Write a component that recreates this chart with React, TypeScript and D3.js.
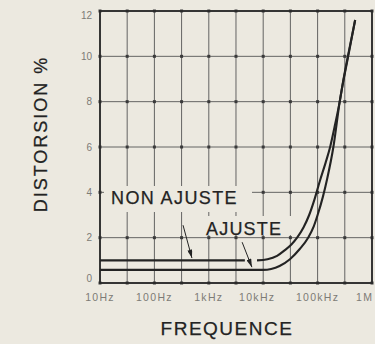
import { scaleLog, scaleLinear, line, curveMonotoneX } from 'd3';

// distortion (%) vs frequency (Hz)
const yTicks = [0, 2, 4, 6, 8, 10, 12];
const xDecades = [10, 100, 1e3, 1e4, 1e5, 1e6];
const xTickLabels = ['10Hz', '100Hz', '1kHz', '10kHz', '100kHz', '1M'];
const gridFreqs = [10, 31.6, 100, 316, 1e3, 3160, 1e4, 31600, 1e5, 316000, 1e6];

const nonAjusteFlat: [number, number][] = [
  [10, 1.0],
  [4600, 1.0],
];
const nonAjusteRise: [number, number][] = [
  [7700, 1.0],
  [12000, 1.05],
  [18000, 1.2],
  [25000, 1.45],
  [33000, 1.7],
  [42000, 2.0],
  [55000, 2.45],
  [70000, 3.0],
  [88000, 3.7],
  [110000, 4.5],
  [140000, 5.3],
  [170000, 6.0],
  [210000, 7.0],
  [255000, 8.0],
  [300000, 9.0],
  [360000, 10.0],
  [490000, 11.6],
];
const ajuste: [number, number][] = [
  [10, 0.58],
  [10000, 0.58],
  [14000, 0.62],
  [20000, 0.75],
  [31000, 1.05],
  [47000, 1.5],
  [67000, 2.0],
  [85000, 2.5],
  [100000, 3.0],
  [125000, 3.8],
  [150000, 4.6],
  [195000, 6.0],
  [255000, 8.0],
  [365000, 10.0],
  [490000, 11.6],
];

// arrows (data coords): tail -> tip
const arrowNon = [[336, 2.55], [490, 1.1]];
const arrowAj = [[4100, 1.8], [6200, 0.7]];

const W = 375;
const H = 344;
const paper = '#ece9e0';
const ink = '#232323';

export default function App() {
  const x = scaleLog().domain([10, 1e6]).range([100, 372]);
  const y = scaleLinear().domain([0, 12]).range([283, 11]);

  const path = line<[number, number]>()
    .x((d) => x(d[0]))
    .y((d) => y(d[1]))
    .curve(curveMonotoneX);

  const arrow = (a: number[][], key: string) => (
    <line
      key={key}
      x1={x(a[0][0])}
      y1={y(a[0][1])}
      x2={x(a[1][0])}
      y2={y(a[1][1])}
      stroke={ink}
      strokeWidth={1}
      markerEnd="url(#head)"
    />
  );

  const bold = { stroke: ink, strokeWidth: 0.25 };

  return (
    <svg
      width={W}
      height={H}
      style={{ position: 'absolute', left: 0, top: 0 }}
      fontFamily="'Liberation Sans', Arial, sans-serif"
    >
      <defs>
        <marker id="head" viewBox="0 0 10 6" refX="10" refY="3" markerWidth="9" markerHeight="5" orient="auto" markerUnits="userSpaceOnUse">
          <path d="M0,0 L10,3 L0,6 Z" fill={ink} />
        </marker>
      </defs>
      <rect width={W} height={H} fill={paper} />

      {/* grid */}
      <g stroke="#555" strokeWidth={0.9}>
        {gridFreqs.map((f) => (
          <line key={'v' + f} x1={x(f)} x2={x(f)} y1={y(0)} y2={y(12)} />
        ))}
        {yTicks.map((t) => (
          <line key={'h' + t} x1={x(10)} x2={x(1e6)} y1={y(t)} y2={y(t)} />
        ))}
      </g>
      <g fill="#3a3a3a">
        {gridFreqs.map((f) =>
          yTicks.map((t) => (
            <rect key={f + '-' + t} x={x(f) - 1.5} y={y(t) - 1.5} width={3} height={3} />
          )),
        )}
      </g>

      {/* label backgrounds */}
      <rect x={104} y={186} width={148} height={26} fill={paper} />
      <rect x={201} y={216} width={90} height={19} fill={paper} />

      {/* frame */}
      <rect x={x(10)} y={y(12)} width={x(1e6) - x(10)} height={y(0) - y(12)} fill="none" stroke="#2a2a2a" strokeWidth={1.8} />

      {/* curves */}
      <g fill="none" stroke={ink} strokeWidth={2.1}>
        <path d={path(nonAjusteFlat) || ''} />
        <path d={path(nonAjusteRise) || ''} />
        <path d={path(ajuste) || ''} />
      </g>

      {arrow(arrowNon, 'a1')}
      {arrow(arrowAj, 'a2')}

      {/* labels */}
      <text x={111} y={204} fontSize={18} letterSpacing={1.4} fill={ink} {...bold}>
        NON AJUSTE
      </text>
      <text x={206} y={235} fontSize={18} letterSpacing={1.2} fill={ink} {...bold}>
        AJUSTE
      </text>

      {/* y tick labels */}
      <g fontSize={10} fill="#7d7b76" textAnchor="end">
        {yTicks.map((t) => (
          <text key={t} x={92} y={t === 0 ? y(t) - 5 : t === 12 ? y(t) + 4 : y(t)} dy="0.35em">
            {t}
          </text>
        ))}
      </g>

      {/* x tick labels */}
      <g fontSize={10.5} fill="#7d7b76" letterSpacing={1.3}>
        {xDecades.map((f, i) => (
          <text
            key={f}
            x={i === xDecades.length - 1 ? 356 : x(f) - (i === 3 ? 6 : 0)}
            y={301}
            textAnchor={i === xDecades.length - 1 ? 'start' : 'middle'}
          >
            {xTickLabels[i]}
          </text>
        ))}
      </g>

      {/* axis titles */}
      <text
        transform="translate(47,134) rotate(-90)"
        textAnchor="middle"
        fontSize={18}
        letterSpacing={2}
        fill={ink}
        {...bold}
      >
        DISTORSION %
      </text>
      <text x={227} y={335} textAnchor="middle" fontSize={19} letterSpacing={1.5} fill={ink} {...bold}>
        FREQUENCE
      </text>
    </svg>
  );
}
